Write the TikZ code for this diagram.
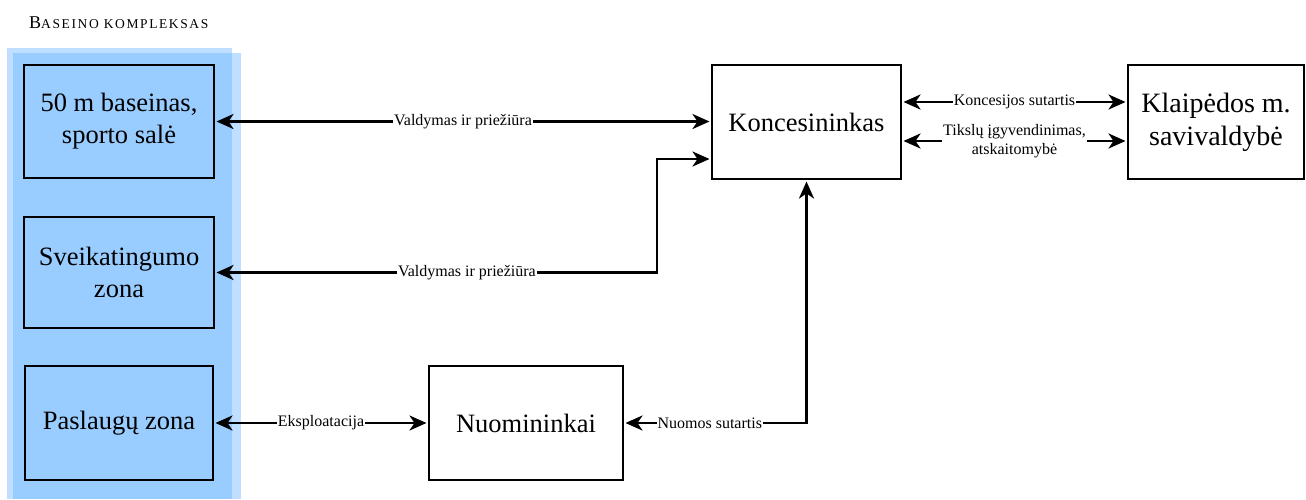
\documentclass[tikz,border=0pt]{standalone}
\usepackage{fontspec}
\setmainfont{Liberation Serif}
\usetikzlibrary{arrows.meta,calc}
\definecolor{bluedark}{HTML}{99CCFF}
\definecolor{bluelight}{HTML}{C0DEFF}
\tikzset{
  box/.style={draw, line width=2pt, align=center, inner sep=0pt,
    font=\fontsize{26.5}{32}\selectfont},
  lbl/.style={fill=white, inner sep=1pt, align=center,
    font=\fontsize{16}{19}\selectfont},
  conn/.style={line width=2.7pt,
    {Stealth[length=17pt,width=15pt,inset=5pt]}-{Stealth[length=17pt,width=15pt,inset=5pt]},
    shorten <=1.5pt, shorten >=1.5pt},
}
\begin{document}
\begin{tikzpicture}[x=1pt,y=-1pt]
\useasboundingbox (0,0) rectangle (1306,499);
% background of the complex
\fill[bluelight] (7,48) rectangle (232,499);
\fill[bluelight] (13,53) rectangle (241,499);
\fill[bluedark] (13,53) rectangle (232,499);
\node[anchor=base west, inner sep=0pt] (title) at (29,28)
  {{\fontsize{18}{18}\selectfont B}{\addfontfeature{LetterSpace=12}\fontsize{13.5}{13.5}\selectfont ASEINO KOMPLEKSAS}};
% boxes
\node[box, fill=bluedark, minimum width=190pt, minimum height=113pt] (b1) at (119,121.5) {50 m baseinas,\\sporto salė};
\node[box, fill=bluedark, minimum width=190pt, minimum height=111pt] (b2) at (119,272.5) {Sveikatingumo\\zona};
\node[box, fill=bluedark, minimum width=188pt, minimum height=114pt] (b3) at (119,423) {Paslaugų zona};
\node[box, fill=white, minimum width=189pt, minimum height=114pt] (k) at (806.5,122) {Koncesininkas};
\node[box, fill=white, minimum width=176pt, minimum height=114pt, font=\fontsize{28}{33}\selectfont] (kl) at (1216,122) {Klaipėdos m.\\savivaldybė};
\node[box, fill=white, minimum width=194pt, minimum height=114pt] (n) at (526,423) {Nuomininkai};
% helper coordinates
\coordinate (c2) at (657,0);
\coordinate (kin2) at ($(k.west)+(0,37)$);
\coordinate (k1) at ($(k.east)+(0,-20)$);
\coordinate (k2) at ($(k.east)+(0,19)$);
% connectors
\draw[conn] (b1.east) -- node[lbl]{Valdymas ir priežiūra} (b1.east -| k.west);
\draw[conn] (b2.east) -- node[lbl,pos=0.57]{Valdymas ir priežiūra} (b2.east -| c2) |- (kin2);
\draw[conn] (b3.east) -- node[lbl]{Eksploatacija} (n.west);
\draw[conn] (n.east) -- node[lbl,pos=0.47]{Nuomos sutartis} (n.east -| k.south) -- (k.south);
\draw[conn] (k1) -- node[lbl]{Koncesijos sutartis} (k1 -| kl.west);
\draw[conn] (k2) -- node[lbl]{Tikslų įgyvendinimas,\\atskaitomybė} (k2 -| kl.west);
\end{tikzpicture}
\end{document}
